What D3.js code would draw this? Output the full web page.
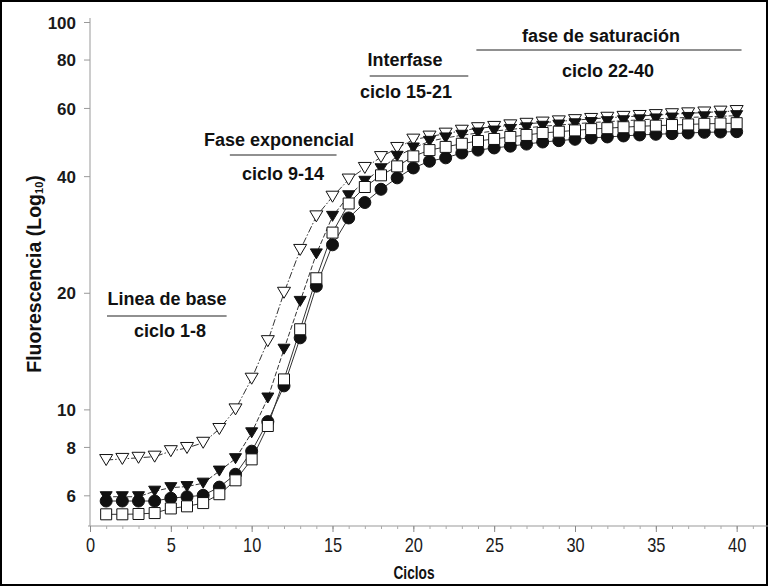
<!DOCTYPE html>
<html>
<head>
<meta charset="utf-8">
<script src="https://cdn.jsdelivr.net/npm/d3@7"></script>
<style>
  body { margin: 0; background: #fff; }
  svg { display: block; }
  .tick-y { font: bold 17px "Liberation Sans", Arial, sans-serif; fill: #1a1a1a; }
  .tick-x { font: 20px "Liberation Sans", Arial, sans-serif; fill: #1a1a1a; }
  .note { font: bold 18px "Liberation Sans", Arial, sans-serif; fill: #111; }
  .axis-title { font: bold 19px "Liberation Sans", Arial, sans-serif; fill: #111; }
</style>
</head>
<body>
<div id="chart"></div>
<script>
// cycles 1..40
const cycles = d3.range(1, 41);

const openTri = [7.4, 7.45, 7.5, 7.55, 7.8, 7.95, 8.2, 8.9, 10.0, 12.0,
  15.0, 20.0, 25.8, 31.5, 35.4, 39.2, 42.0, 44.8, 47.3, 49.7,
  50.6, 51.5, 52.4, 53.2, 53.6, 54.1, 54.6, 55.0, 55.4, 55.8,
  56.2, 56.6, 56.9, 57.2, 57.5, 57.8, 58.1, 58.4, 58.7, 58.9];

const filledTri = [5.95, 5.95, 5.95, 6.15, 6.28, 6.32, 6.45, 6.93, 7.46, 8.7,
  10.7, 14.3, 19.0, 25.2, 31.5, 35.6, 38.8, 41.8, 45.0, 47.3,
  49.2, 50.2, 51.0, 51.7, 52.3, 52.8, 53.3, 53.8, 54.2, 54.6,
  55.0, 55.3, 55.6, 55.9, 56.2, 56.5, 56.7, 56.9, 57.1, 57.3];

const circles = [5.8, 5.8, 5.8, 5.8, 5.9, 5.95, 6.0, 6.3, 6.8, 7.8,
  9.3, 11.5, 15.3, 20.8, 26.6, 31.2, 34.2, 37.0, 39.6, 42.0,
  43.7, 44.6, 45.9, 46.7, 47.3, 47.8, 48.4, 49.0, 49.4, 49.8,
  50.2, 50.5, 50.8, 51.1, 51.3, 51.5, 51.7, 51.9, 52.0, 52.1];

const squares = [5.36, 5.36, 5.37, 5.4, 5.55, 5.62, 5.73, 6.04, 6.56, 7.43,
  9.06, 11.95, 16.1, 21.8, 28.6, 34.0, 37.5, 40.2, 42.4, 45.0,
  46.7, 47.6, 48.5, 49.3, 49.9, 50.5, 51.1, 51.7, 52.1, 52.5,
  52.9, 53.2, 53.5, 53.8, 54.0, 54.2, 54.4, 54.6, 54.7, 54.8];

const yTicks = [6, 8, 10, 20, 40, 60, 80, 100];
const xTicks = [0, 5, 10, 15, 20, 25, 30, 35, 40];

const phaseTitles = ["Linea de base", "Fase exponencial", "Interfase", "fase de saturación"];
const phaseRanges = ["ciclo 1-8", "ciclo 9-14", "ciclo 15-21", "ciclo 22-40"];

const width = 768, height = 586;

const svg = d3.select("#chart").append("svg")
    .attr("width", width)
    .attr("height", height);

const x = d3.scaleLinear().domain([0, 42]).range([90, 769]);
const y = d3.scaleLog().domain([5, 100]).range([526, 22]);

// frame
svg.append("rect")
    .attr("x", 1).attr("y", 1)
    .attr("width", width - 2).attr("height", height - 2)
    .attr("fill", "none").attr("stroke", "#000").attr("stroke-width", 2);

// y axis
const yAxis = svg.append("g")
    .attr("transform", "translate(90,0)")
    .call(d3.axisLeft(y).tickValues(yTicks).tickFormat(d3.format("d")).tickSize(6).tickPadding(8));
yAxis.select(".domain").attr("stroke", "#999").attr("d", "M0,18V526");
yAxis.selectAll(".tick line").attr("stroke", "#999");
yAxis.selectAll(".tick text").attr("class", "tick-y").attr("fill", null).attr("dy", "0.36em");
yAxis.attr("font-family", null).attr("font-size", null);

// x axis: minor ticks every cycle, labelled every 5
const xMinor = svg.append("g")
    .attr("transform", "translate(0,526)")
    .call(d3.axisBottom(x).tickValues(d3.range(0, 42)).tickFormat("").tickSize(3));
xMinor.select(".domain").attr("stroke", "#999").attr("d", "M88,0H768");
xMinor.selectAll(".tick line").attr("stroke", "#aaa");

const xAxis = svg.append("g")
    .attr("transform", "translate(0,526)")
    .call(d3.axisBottom(x).tickValues(xTicks).tickSize(6).tickPadding(6));
xAxis.select(".domain").remove();
xAxis.selectAll(".tick line").attr("stroke", "#888");
xAxis.selectAll(".tick text")
    .attr("class", "tick-x").attr("fill", null)
    .attr("transform", "scale(0.82,1)");
xAxis.attr("font-family", null).attr("font-size", null);

// axis titles
svg.append("text")
    .attr("class", "axis-title")
    .attr("transform", "translate(414,579) scale(0.72,1)")
    .attr("text-anchor", "middle")
    .text("Ciclos");

const yTitle = svg.append("text")
    .attr("transform", "translate(41,274) rotate(-90)")
    .attr("text-anchor", "middle")
    .style("font", "bold 19.5px 'Liberation Sans', Arial, sans-serif")
    .attr("fill", "#111");
yTitle.append("tspan").text("Fluorescencia (Log");
yTitle.append("tspan").attr("font-size", "11px").attr("dy", "2").text("10");
yTitle.append("tspan").attr("dy", "-2").text(")");

// phase annotations
const phaseLayout = [
  { cx: 167, rcx: 170, ty: 305, ly: 316, ry: 337, from: 1.05, to: 8.45 },
  { cx: 279, rcx: 283, ty: 146, ly: 155, ry: 180, from: 8.65, to: 15.25 },
  { cx: 405, rcx: 406, ty: 66, ly: 76, ry: 98, from: 17.3, to: 23.4 },
  { cx: 601, rcx: 608, ty: 42, ly: 50, ry: 77, from: 23.9, to: 40.3 }
];

const notes = svg.append("g");
phaseTitles.forEach((t, i) => {
  const p = phaseLayout[i];
  notes.append("text").attr("class", "note")
      .attr("x", p.cx).attr("y", p.ty).attr("text-anchor", "middle").text(t);
  notes.append("line")
      .attr("x1", x(p.from)).attr("x2", x(p.to))
      .attr("y1", p.ly).attr("y2", p.ly)
      .attr("stroke", "#222").attr("stroke-width", 1.2);
  notes.append("text").attr("class", "note")
      .attr("x", p.rcx).attr("y", p.ry).attr("text-anchor", "middle").text(phaseRanges[i]);
});

// series
const series = [
  { values: openTri, dash: "7,2,1.5,2", shape: "triOpen" },
  { values: circles, dash: null, shape: "circle" },
  { values: filledTri, dash: "5,2", shape: "triFilled" },
  { values: squares, dash: null, shape: "square" }
];

const line = d3.line()
    .x((d, i) => x(cycles[i]))
    .y(d => y(d));

series.forEach(s => {
  svg.append("path")
      .datum(s.values)
      .attr("fill", "none")
      .attr("stroke", "#333")
      .attr("stroke-width", 1)
      .attr("stroke-dasharray", s.dash)
      .attr("d", line);
});

function tri(w, h) {
  return `M${-w / 2},${-h / 2}L${w / 2},${-h / 2}L0,${h / 2}Z`;
}

series.forEach(s => {
  const g = svg.append("g");
  const pts = g.selectAll("path.m")
      .data(s.values)
      .enter().append("path")
      .attr("class", "m")
      .attr("transform", (d, i) => `translate(${x(cycles[i])},${y(d)})`)
      .attr("stroke", "#111")
      .attr("stroke-width", 1);
  if (s.shape === "triOpen") {
    pts.attr("d", tri(13, 11)).attr("fill", "#fff");
  } else if (s.shape === "triFilled") {
    pts.attr("d", tri(12, 10)).attr("fill", "#111");
  } else if (s.shape === "circle") {
    pts.attr("d", d3.symbol(d3.symbolCircle, 113)()).attr("fill", "#111");
  } else {
    pts.attr("d", "M-5.5,-5.5H5.5V5.5H-5.5Z").attr("fill", "#fff");
  }
});
</script>
</body>
</html>
